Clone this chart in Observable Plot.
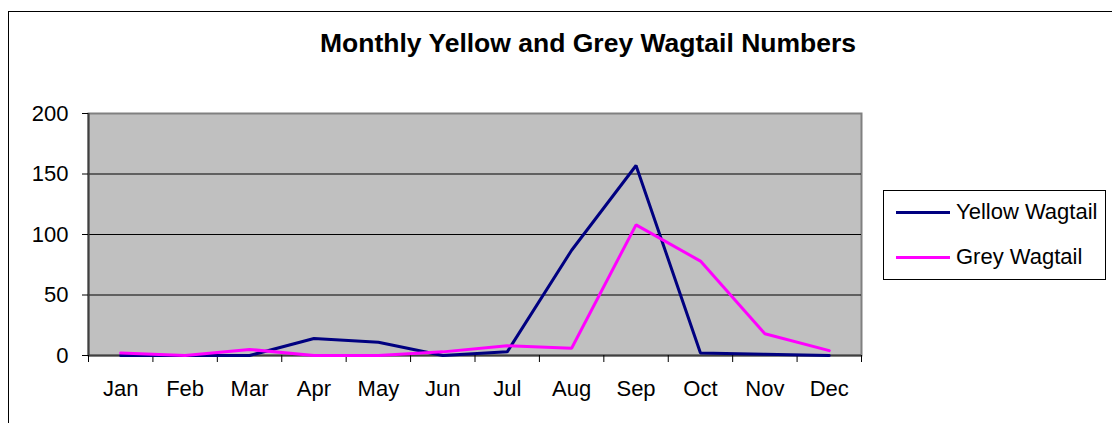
<!DOCTYPE html>
<html>
<head>
<meta charset="utf-8">
<script src="https://cdn.jsdelivr.net/npm/d3@7"></script>
<script src="https://cdn.jsdelivr.net/npm/@observablehq/plot@0.6"></script>
<style>
  html, body { margin: 0; padding: 0; background: #fff; }
  #wrap { position: relative; width: 1112px; height: 423px; overflow: hidden; font-family: "Liberation Sans", Arial, sans-serif; }
  #border { position: absolute; left: 8px; top: 11px; width: 1200px; height: 500px; border: 1.5px solid #000; box-sizing: border-box; }
  #title { position: absolute; left: 0; width: 1176px; top: 28px; text-align: center; font-weight: bold; font-size: 26.5px; color: #000; }
  #legend { position: absolute; left: 883px; top: 190px; width: 223px; height: 90px; border: 1px solid #000; box-sizing: border-box; background: #fff; }
  .item { position: absolute; left: 12px; display: flex; align-items: center; font-size: 22px; color: #000; }
  .swatch { width: 54px; height: 3px; margin-right: 6px; }
  #chart { position: absolute; left: 0; top: 0; }
</style>
</head>
<body>
<div id="wrap">
  <div id="border"></div>
  <div id="chart"></div>
  <div id="title">Monthly Yellow and Grey Wagtail Numbers</div>
  <div id="legend"></div>
</div>
<script>
const months = ["Jan","Feb","Mar","Apr","May","Jun","Jul","Aug","Sep","Oct","Nov","Dec"];
const yellowWagtail = [0, 0, 0, 14, 11, 0, 3, 87, 157, 2, 1, 0];
const greyWagtail = [2, 0, 5, 0, 0, 3, 8, 6, 108, 78, 18, 4];
const seriesNames = ["Yellow Wagtail", "Grey Wagtail"];
const seriesColors = ["#000080", "#FF00FF"];
const yTicks = [0, 50, 100, 150, 200];
const gridValues = [50, 100, 150];

const rows = [];
[yellowWagtail, greyWagtail].forEach((vals, s) => {
  vals.forEach((v, i) => rows.push({series: seriesNames[s], month: months[i], idx: i + 0.5, value: v}));
});

const chart = Plot.plot({
  width: 1112,
  height: 423,
  marginLeft: 88,
  marginRight: 251,
  marginTop: 113,
  marginBottom: 68,
  style: {fontFamily: "'Liberation Sans', Arial, sans-serif", fontSize: "22px", color: "#000", background: "transparent", overflow: "visible"},
  x: {type: "linear", domain: [0, months.length]},
  y: {domain: [0, 200]},
  color: {domain: seriesNames, range: seriesColors},
  marks: [
    Plot.frame({fill: "#C0C0C0", stroke: "#808080", strokeWidth: 2}),
    Plot.ruleY(gridValues, {stroke: "#000", strokeWidth: 1}),
    Plot.ruleY([0], {stroke: "#404040", strokeWidth: 2}),
    Plot.ruleX([0], {stroke: "#404040", strokeWidth: 2}),
    Plot.axisY({ticks: yTicks, tickSize: 6, tickPadding: 14, label: null, stroke: "#000", fontSize: 22}),
    Plot.axisX({ticks: d3.range(months.length + 1), tickSize: 7, tickFormat: () => "", label: null, stroke: "#000"}),
    Plot.axisX({ticks: months.map((m, i) => i + 0.5), tickSize: 0, tickPadding: 25, tickFormat: v => months[Math.floor(v)], label: null, fontSize: 22}),
    Plot.line(rows, {x: "idx", y: "value", z: "series", stroke: "series", strokeWidth: 3, strokeLinejoin: "miter"})
  ]
});
document.getElementById("chart").appendChild(chart);

const legend = document.getElementById("legend");
seriesNames.forEach((name, i) => {
  const item = document.createElement("div");
  item.className = "item";
  item.style.top = (i === 0 ? 8 : 53) + "px";
  const sw = document.createElement("div");
  sw.className = "swatch";
  sw.style.background = seriesColors[i];
  const label = document.createElement("span");
  label.textContent = name;
  item.appendChild(sw);
  item.appendChild(label);
  legend.appendChild(item);
});
</script>
</body>
</html>
